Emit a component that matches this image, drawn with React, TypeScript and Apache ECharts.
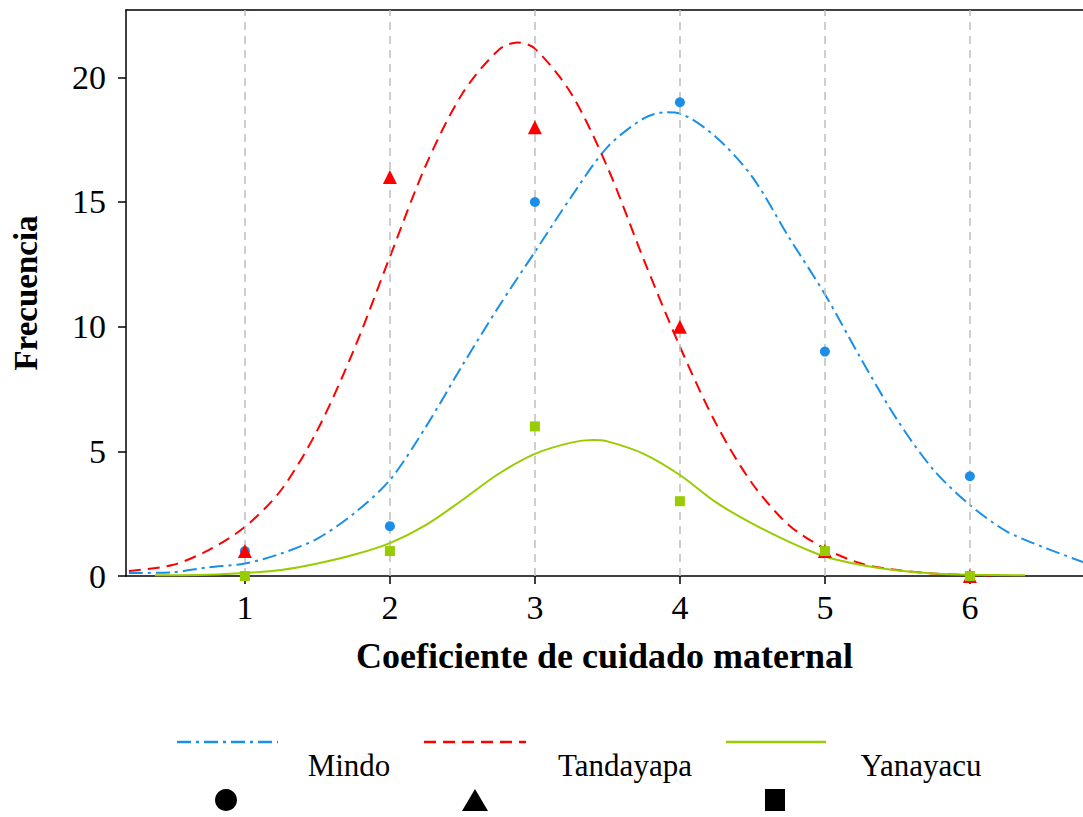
import React, { useEffect, useRef } from "react";
import * as echarts from "echarts";

// Observed counts per coefficient value
const xTicks = [1, 2, 3, 4, 5, 6];
const yTicks = [0, 5, 10, 15, 20];
const mindoCounts = [1, 2, 15, 19, 9, 4];
const tandayapaCounts = [1, 16, 18, 10, 1, 0];
const yanayacuCounts = [0, 1, 6, 3, 1, 0];

// Fitted curves (x, y)
const mindoCurveX = [0.2, 0.5, 0.75, 1, 1.25, 1.5, 1.75, 2, 2.25, 2.5, 2.75, 3, 3.25, 3.5, 3.75, 3.9, 4, 4.25, 4.5, 4.75, 5, 5.25, 5.5, 5.75, 6, 6.25, 6.5, 6.78];
const mindoCurveY = [0.12, 0.15, 0.35, 0.5, 0.9, 1.5, 2.5, 3.85, 6.0, 8.45, 10.8, 13.0, 15.2, 17.2, 18.35, 18.6, 18.55, 17.6, 16.0, 13.6, 11.3, 8.7, 6.25, 4.25, 2.85, 1.8, 1.17, 0.56];

const tandayapaCurveX = [0.2, 0.5, 0.75, 1, 1.25, 1.5, 1.75, 2, 2.25, 2.5, 2.75, 2.88, 3, 3.25, 3.5, 3.75, 4, 4.25, 4.5, 4.75, 5, 5.25, 5.5, 5.75, 6, 6.15];
const tandayapaCurveY = [0.2, 0.44, 1.04, 1.97, 3.45, 5.85, 9.05, 12.8, 16.5, 19.35, 21.1, 21.4, 21.15, 19.35, 16.4, 12.7, 9.2, 6.1, 3.7, 2.05, 1.1, 0.5, 0.24, 0.1, 0.04, 0.02];

const yanayacuCurveX = [0.38, 0.75, 1, 1.25, 1.5, 1.75, 2, 2.25, 2.5, 2.75, 3, 3.25, 3.4, 3.5, 3.75, 4, 4.25, 4.5, 4.75, 5, 5.25, 5.5, 5.75, 6, 6.38];
const yanayacuCurveY = [0.03, 0.05, 0.12, 0.24, 0.5, 0.85, 1.32, 2.05, 3.05, 4.1, 4.9, 5.35, 5.45, 5.4, 4.9, 4.05, 2.95, 2.1, 1.38, 0.78, 0.44, 0.22, 0.1, 0.05, 0.03];

const legendNames = ["Mindo", "Tandayapa", "Yanayacu"];

const BLUE = "#1B8FE8";
const RED = "#FF0000";
const GREEN = "#99CC00";
const FONT = "'Liberation Serif', 'Times New Roman', serif";

const pairs = (xs: number[], ys: number[]) => xs.map((x, i) => [x, ys[i]]);

export default function App() {
  const ref = useRef<HTMLDivElement>(null);

  useEffect(() => {
    if (!ref.current) return;
    const chart = echarts.init(ref.current, null, { renderer: "svg" });

    const curve = (name: string, xs: number[], ys: number[], color: string, dash: any, z: number) => ({
      name,
      type: "line",
      data: pairs(xs, ys),
      smooth: 0.3,
      showSymbol: false,
      symbol: "none",
      z,
      lineStyle: { color, width: 2, type: dash },
      silent: true,
    });

    const points = (name: string, counts: number[], color: string, symbol: string, size: number) => ({
      name,
      type: "scatter",
      data: counts.map((c, i) => [xTicks[i], c]),
      symbol,
      symbolSize: size,
      itemStyle: { color, opacity: 1 },
      z: 10,
      silent: true,
    });

    const legendItems = [
      { x1: 177, x2: 278, color: BLUE, dash: [14, 5, 3, 5], tx: 349, sym: "circle", sx: 226 },
      { x1: 424, x2: 526, color: RED, dash: [12, 7], tx: 625, sym: "triangle", sx: 475 },
      { x1: 726, x2: 826, color: GREEN, dash: null, tx: 921, sym: "rect", sx: 775 },
    ];

    const graphics: any[] = [];
    legendItems.forEach((it, i) => {
      graphics.push({
        type: "line",
        shape: { x1: it.x1, y1: 742, x2: it.x2, y2: 742 },
        style: { stroke: it.color, lineWidth: 2.5, lineDash: it.dash || undefined },
        silent: true,
      });
      graphics.push({
        type: "text",
        x: it.tx,
        y: 765,
        style: {
          text: legendNames[i],
          font: `31px ${FONT}`,
          fill: "#000",
          align: "center",
          verticalAlign: "middle",
        },
        silent: true,
      });
      if (it.sym === "circle") {
        graphics.push({ type: "circle", shape: { cx: it.sx, cy: 800, r: 11 }, style: { fill: "#000" }, silent: true });
      } else if (it.sym === "triangle") {
        graphics.push({
          type: "polygon",
          shape: { points: [[it.sx - 13, 811], [it.sx + 13, 811], [it.sx, 789]] },
          style: { fill: "#000" },
          silent: true,
        });
      } else {
        graphics.push({ type: "rect", shape: { x: it.sx - 10, y: 789, width: 20, height: 22 }, style: { fill: "#000" }, silent: true });
      }
    });

    const axisLineStyle = { color: "#000", width: 1.5 };

    chart.setOption({
      animation: false,
      backgroundColor: "#fff",
      grid: { left: 126, top: 10, right: 0, bottom: 241 },
      xAxis: [
        {
          type: "value",
          min: 0.18,
          max: 6.78,
          axisLine: { show: true, lineStyle: axisLineStyle },
          axisTick: { show: true, customValues: xTicks, length: 8, lineStyle: axisLineStyle },
          axisLabel: { customValues: xTicks, fontSize: 34, fontFamily: FONT, color: "#000", margin: 14 },
          splitLine: { show: false },
          name: "Coeficiente de cuidado maternal",
          nameLocation: "middle",
          nameGap: 62,
          nameTextStyle: { fontSize: 36, fontWeight: "bold", fontFamily: FONT, color: "#000" },
        },
        {
          type: "value",
          position: "top",
          min: 0.18,
          max: 6.78,
          axisLine: { show: true, lineStyle: axisLineStyle },
          axisTick: { show: false },
          axisLabel: { show: false },
          splitLine: { show: false },
        },
      ],
      yAxis: {
        type: "value",
        min: 0,
        max: 22.7,
        axisLine: { show: true, lineStyle: axisLineStyle },
        axisTick: { show: true, customValues: yTicks, length: 8, lineStyle: axisLineStyle },
        axisLabel: { customValues: yTicks, fontSize: 34, fontFamily: FONT, color: "#000", margin: 20 },
        splitLine: { show: false },
        name: "Frecuencia",
        nameLocation: "middle",
        nameGap: 84,
        nameRotate: 90,
        nameTextStyle: { fontSize: 33, fontWeight: "bold", fontFamily: FONT, color: "#000" },
      },
      series: [
        {
          type: "line",
          data: [],
          z: 1,
          silent: true,
          markLine: {
            silent: true,
            symbol: ["none", "none"],
            label: { show: false },
            lineStyle: { color: "#BEBEBE", type: [8, 6], width: 1.5 },
            data: xTicks.map((v) => ({ xAxis: v })),
          },
        },
        curve("Mindo", mindoCurveX, mindoCurveY, BLUE, [14, 5, 3, 5], 3),
        curve("Tandayapa", tandayapaCurveX, tandayapaCurveY, RED, [12, 7], 4),
        curve("Yanayacu", yanayacuCurveX, yanayacuCurveY, GREEN, "solid", 5),
        points("Mindo", mindoCounts, BLUE, "circle", 10),
        points("Tandayapa", tandayapaCounts, RED, "triangle", 14),
        points("Yanayacu", yanayacuCounts, GREEN, "rect", 10),
      ],
      graphic: graphics,
    });

    return () => chart.dispose();
  }, []);

  return (
    <div
      ref={ref}
      style={{ position: "fixed", left: 0, top: 0, width: 1083, height: 817, background: "#fff" }}
    />
  );
}
